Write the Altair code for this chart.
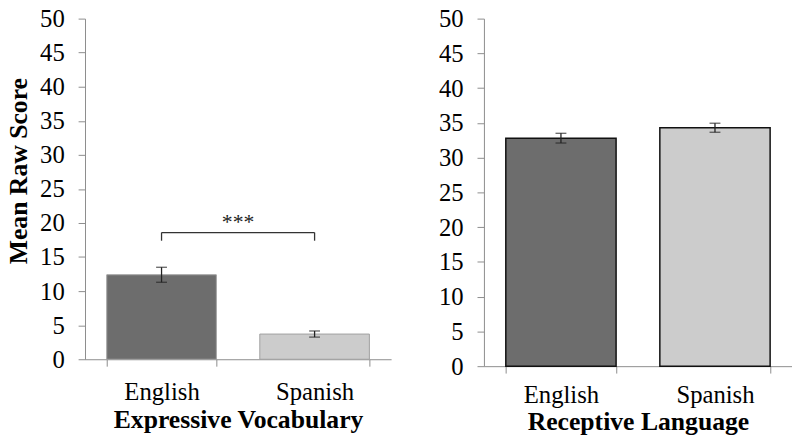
import altair as alt
import pandas as pd

categories = ["English", "Spanish"]
expressive_mean = [12.4, 3.7]
expressive_err = [1.1, 0.45]
receptive_mean = [32.8, 34.3]
receptive_err = [0.7, 0.65]
bracket_low = 17.4
bracket_high = 18.6
star_y = 20.1
star_text = "***"
colors = ["#6d6d6d", "#cccccc"]

FONT = "Liberation Serif"


def panel(mean, err, title, width, height, stroke, stroke_w, show_y_title,
          label_pad, title_pad, bracket):
    df = pd.DataFrame({
        "cat": categories,
        "mean": mean,
        "lo": [m - e for m, e in zip(mean, err)],
        "hi": [m + e for m, e in zip(mean, err)],
    })
    yaxis = alt.Axis(
        values=list(range(0, 51, 5)), grid=False, tickSize=7, labelPadding=14,
        labelFontSize=25, labelFont=FONT, labelColor="black",
        domainColor="#8c8c8c", tickColor="#8c8c8c",
        title="Mean Raw Score",
        titleFont=FONT, titleFontSize=26, titleFontWeight="bold", titleColor="black",
        titleX=-67, titleY=154, titleBaseline="middle", titleAngle=270,
    ) if show_y_title else alt.Axis(
        values=list(range(0, 51, 5)), grid=False, tickSize=7, labelPadding=14,
        labelFontSize=25, labelFont=FONT, labelColor="black",
        domainColor="#8c8c8c", tickColor="#8c8c8c", title=None,
    )
    xaxis = alt.Axis(
        title=title, labelAngle=0, tickBand="extent", tickSize=7,
        labelPadding=label_pad, labelFontSize=25, labelFont=FONT, labelColor="black",
        domainColor="#8c8c8c", tickColor="#8c8c8c",
        titleFont=FONT, titleFontSize=26, titleFontWeight="bold", titleColor="black",
        titlePadding=title_pad,
    )
    xscale = alt.Scale(domain=categories, paddingInner=0.284, paddingOuter=0.142)
    xenc = alt.X("cat:N", sort=categories, scale=xscale, axis=xaxis)
    yscale = alt.Scale(domain=[0, 50])
    base = alt.Chart(df)
    bars = base.mark_bar(stroke=stroke, strokeWidth=stroke_w).encode(
        x=xenc,
        y=alt.Y("mean:Q", scale=yscale, axis=yaxis),
        color=alt.Color("cat:N", scale=alt.Scale(domain=categories, range=colors), legend=None),
    )
    rule = base.mark_rule(color="#222222", strokeWidth=1.3).encode(
        x=xenc, y=alt.Y("lo:Q", scale=yscale, axis=yaxis), y2="hi:Q")
    cap_lo = base.mark_tick(color="#222222", thickness=1.3, size=11).encode(
        x=xenc, y=alt.Y("lo:Q", scale=yscale, axis=yaxis))
    cap_hi = base.mark_tick(color="#222222", thickness=1.3, size=11).encode(
        x=xenc, y=alt.Y("hi:Q", scale=yscale, axis=yaxis))
    layers = [bars, rule, cap_lo, cap_hi]
    if bracket:
        bdf = pd.DataFrame({"cat": categories,
                            "lo": [bracket_low] * 2, "hi": [bracket_high] * 2})
        hdf = pd.DataFrame({"cat": [categories[0]], "cat2": [categories[1]],
                            "y": [bracket_high]})
        sdf = pd.DataFrame({"cat": [categories[0]], "y": [star_y], "t": [star_text]})
        vert = alt.Chart(bdf).mark_rule(color="#333333", strokeWidth=1.3).encode(
            x=xenc, y=alt.Y("lo:Q", scale=yscale, axis=yaxis), y2="hi:Q")
        horiz = alt.Chart(hdf).mark_rule(color="#333333", strokeWidth=1.3).encode(
            x=xenc, x2="cat2:N", y=alt.Y("y:Q", scale=yscale, axis=yaxis))
        stars = alt.Chart(sdf).mark_text(font=FONT, fontSize=22, color="#222222",
                                         baseline="middle", align="center",
                                         dx=22).encode(
            x=alt.X("cat:N", sort=categories, scale=xscale, axis=xaxis, bandPosition=1),
            y=alt.Y("y:Q", scale=yscale, axis=yaxis), text="t:N")
        layers += [vert, horiz, stars]
    return alt.layer(*layers).properties(width=width, height=height)


left = panel(expressive_mean, expressive_err, "Expressive Vocabulary", 310, 345,
             "#a0a0a0", 1, True, 14, 2, True)
right = panel(receptive_mean, receptive_err, "Receptive Language", 312, 352,
              "#111111", 1.5, False, 10, 1, False)

chart = alt.hconcat(left, right, spacing=94, bounds="flush").properties(
    padding={"left": -2, "top": -4, "right": 0, "bottom": 0},
).configure_view(stroke=None)

chart.save("out.html", embed_options={"renderer": "svg", "actions": False})
